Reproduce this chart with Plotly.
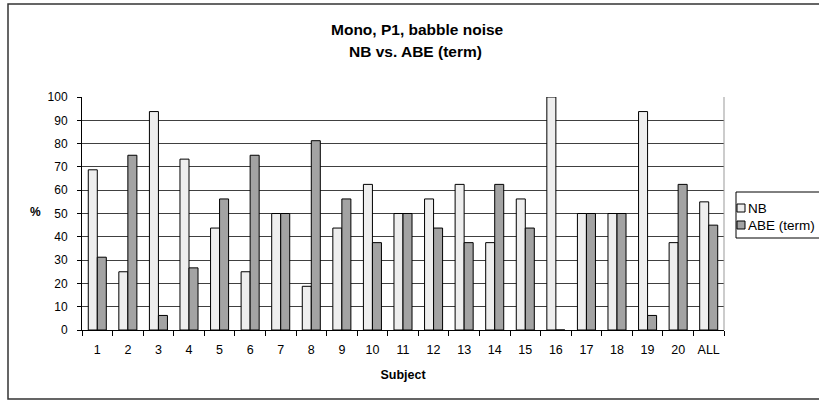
import plotly.graph_objects as go

subjects = [str(i) for i in range(1, 21)] + ["ALL"]
nb = [68.75, 25, 93.75, 73.33, 43.75, 25, 50, 18.75, 43.75, 62.5, 50, 56.25, 62.5, 37.5, 56.25, 100, 50, 50, 93.75, 37.5, 55]
abe = [31.25, 75, 6.25, 26.67, 56.25, 75, 50, 81.25, 56.25, 37.5, 50, 43.75, 37.5, 62.5, 43.75, 0, 50, 50, 6.25, 62.5, 45]
series_names = ["NB", "ABE (term)"]
colors = ["#EEEEEE", "#A3A3A3"]
y_ticks = list(range(0, 101, 10))

W, H = 819, 401
L, R, T, B = 82, 724, 97, 330
FONT = "Liberation Sans, Arial, sans-serif"

def px(x):
    return (x - L) / (R - L)

def py(y):
    return (B - y) / (B - T)

fig = go.Figure()
for name, vals, col in zip(series_names, [nb, abe], colors):
    fig.add_trace(go.Bar(x=subjects, y=vals, name=name, marker=dict(color=col, line=dict(color="#000000", width=1)),
                         showlegend=False))

shapes = [
    dict(type="rect", xref="paper", yref="paper", x0=px(8), x1=px(840), y0=py(399), y1=py(4),
         line=dict(color="#333333", width=1.5), fillcolor="rgba(0,0,0,0)", layer="above"),
    dict(type="line", xref="paper", yref="paper", x0=1, x1=1, y0=0, y1=1, line=dict(color="#999999", width=1)),
    dict(type="rect", xref="paper", yref="paper", x0=px(736), x1=px(840), y0=py(238), y1=py(192),
         line=dict(color="#000000", width=1), fillcolor="white"),
]
annotations = [
    dict(text="<b>Mono, P1, babble noise</b>", xref="paper", yref="paper", x=px(418), y=py(29),
         showarrow=False, font=dict(size=15.5, color="#000"), xanchor="center", yanchor="middle"),
    dict(text="<b>NB vs. ABE (term)</b>", xref="paper", yref="paper", x=px(416), y=py(51),
         showarrow=False, font=dict(size=15.5, color="#000"), xanchor="center", yanchor="middle"),
    dict(text="<b>%</b>", xref="paper", yref="paper", x=px(35), y=py(212),
         showarrow=False, font=dict(size=12, color="#000"), xanchor="center", yanchor="middle"),
]
leg_y = [208, 225]
for name, col, yy in zip(series_names, colors, leg_y):
    shapes.append(dict(type="rect", xref="paper", yref="paper", x0=px(737), x1=px(745), y0=py(yy + 4), y1=py(yy - 4),
                       line=dict(color="#000000", width=1), fillcolor=col))
    annotations.append(dict(text=name, xref="paper", yref="paper", x=px(746), y=py(yy), showarrow=False,
                            font=dict(size=13.5, color="#000"), xanchor="left", yanchor="middle"))

fig.update_layout(
    width=W, height=H,
    margin=dict(l=L, r=W - R, t=T, b=H - B, autoexpand=False),
    paper_bgcolor="white", plot_bgcolor="white",
    font=dict(family=FONT, size=12, color="#000"),
    barmode="group", bargap=0.41, bargroupgap=0,
    shapes=shapes, annotations=annotations,
    xaxis=dict(type="category", tickson="boundaries", ticks="outside", ticklen=5, tickcolor="#000",
               showline=True, linecolor="#000", linewidth=1, showgrid=False, tickangle=0,
               title=dict(text="<b>Subject</b>", font=dict(size=12.5), standoff=14),
               tickfont=dict(size=12.5), ticklabelstandoff=8),
    yaxis=dict(range=[0, 100], tickvals=y_ticks, ticks="outside", ticklen=4, tickcolor="#000",
               showline=True, linecolor="#000", linewidth=1, showgrid=True, gridcolor="#404040", gridwidth=1,
               tickfont=dict(size=12), zeroline=False, ticklabelstandoff=7),
)
fig.write_html("out.html")
